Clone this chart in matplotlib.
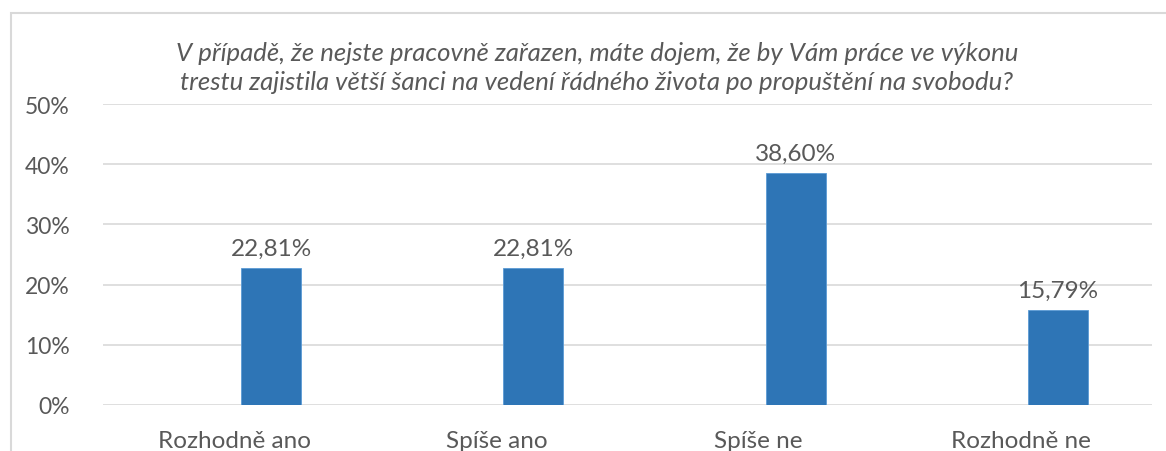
import matplotlib
matplotlib.use("Agg")
import matplotlib.pyplot as plt
import numpy as np
from matplotlib.patches import Rectangle
from matplotlib.ticker import FuncFormatter, MultipleLocator

categories = ["Rozhodně ano", "Spíše ano", "Spíše ne", "Rozhodně ne"]
values = [22.81, 22.81, 38.60, 15.79]
value_labels = ["22,81%", "22,81%", "38,60%", "15,79%"]
title = ("V případě, že nejste pracovně zařazen, máte dojem, že by Vám práce ve výkonu\n"
         "trestu zajistila větší šanci na vedení řádného života po propuštění na svobodu?")

BAR_COLOR = "#2E75B6"
TEXT_COLOR = "#595959"
GRID_COLOR = "#D9D9D9"

plt.rcParams["font.family"] = ["Lato", "DejaVu Sans"]

W, H = 1166, 452
fig = plt.figure(figsize=(W / 100, H / 100), dpi=100)

# plot area in pixel coords: x 103..1152, y 105..406 (from top)
ax = fig.add_axes([103 / W, 1 - 406 / H, (1152 - 103) / W, (406 - 105) / H])

x = np.arange(len(categories))
ax.bar(x + 0.141, values, width=0.229, color=BAR_COLOR,
       edgecolor="#5B9BD5", linewidth=0.6, zorder=3)
for xi, v, lab in zip(x, values, value_labels):
    ax.text(xi + 0.141, v + 1.5, lab, ha="center", va="bottom",
            fontsize=17.5, color=TEXT_COLOR, zorder=4)

ax.set_xlim(-0.5, len(categories) - 0.5)
ax.set_ylim(0, 50)
ax.yaxis.set_major_locator(MultipleLocator(10))
ax.yaxis.set_major_formatter(FuncFormatter(lambda v, p: f"{v:.0f}%"))
ax.set_xticks(x)
ax.set_xticklabels(categories)
ax.tick_params(axis="both", length=0, labelcolor=TEXT_COLOR)
ax.tick_params(axis="x", pad=18, labelsize=17.5)
ax.tick_params(axis="y", pad=24, labelsize=16.5)
ax.grid(axis="y", color=GRID_COLOR, linewidth=1.2, zorder=0)
ax.set_axisbelow(True)
for s in ax.spines.values():
    s.set_visible(False)

fig.text(597 / W, 1 - 68 / H, title, ha="center", va="center",
         fontsize=18.5, style="italic", color=TEXT_COLOR, linespacing=1.3)

# chart border (only top and left visible in the crop)
fig.patches.append(Rectangle((11 / W, -0.2), 1.5, 1.2 - 14 / H,
                             transform=fig.transFigure, fill=False,
                             edgecolor=GRID_COLOR, linewidth=1.5))

fig.savefig("out.png", dpi=100)
